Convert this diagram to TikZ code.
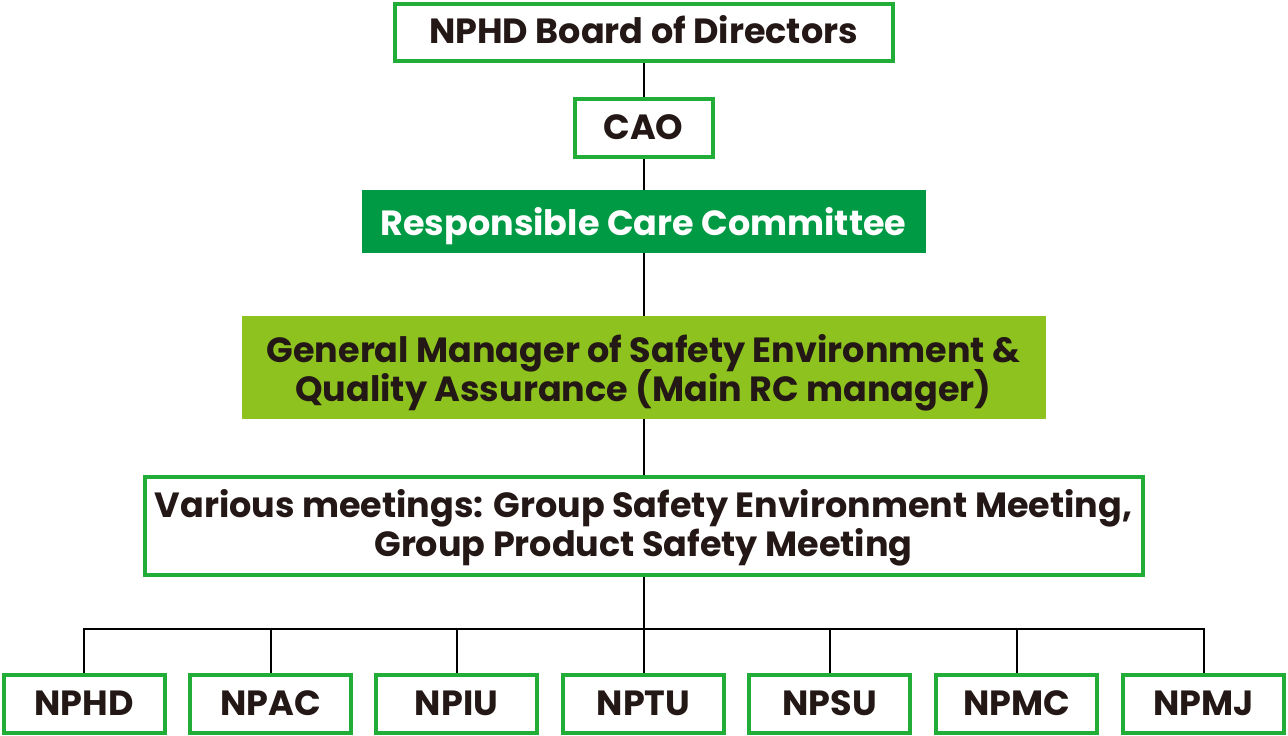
\documentclass[tikz,border=0pt]{standalone}
\usepackage{fontspec}
\setmainfont{Poppins}
\definecolor{bordergreen}{HTML}{22AC38}
\definecolor{darkgreen}{HTML}{009944}
\definecolor{lightgreen}{HTML}{8DC21F}
\definecolor{inkblack}{HTML}{231815}
\newcommand\diagfont{\fontsize{35}{39}\selectfont\bfseries\lineskiplimit=-100pt\relax}
\tikzset{
  every node/.style={font=\diagfont, text=inkblack, inner sep=0pt, align=center},
  oneline/.style={text height=24.5pt, text depth=2pt},
  outlinebox/.style={draw=bordergreen, line width=4pt, fill=white},
  unitbox/.style={outlinebox, oneline, minimum width=161pt, minimum height=58pt},
  conn/.style={draw=black, line width=2pt},
}
\begin{document}
\begin{tikzpicture}[x=1pt,y=-1pt]
\useasboundingbox (0,0) rectangle (1288,736);
\node[outlinebox, oneline, text depth=3.4pt, minimum width=498pt, minimum height=57pt] (board) at (643.5,32.5) {NPHD Board of Directors};
\node[outlinebox, oneline, text depth=1pt, minimum width=138pt, minimum height=58pt] (cao) at (643.5,128) {CAO};
\node[fill=darkgreen, text=white, text height=27.5pt, text depth=0pt, minimum width=564pt, minimum height=63pt] (rcc) at (643.5,221.5) {Responsible Care Committee};
\node[fill=lightgreen, text height=67.5pt, text depth=0pt, minimum width=804pt, minimum height=103pt] (gm) at (643.5,367.5) {General Manager of Safety Environment \&\\Quality Assurance (Main RC manager)};
\node[outlinebox, text height=63.5pt, text depth=3pt, minimum width=998pt, minimum height=98pt] (various) at (643.5,526) {Various meetings: Group Safety Environment Meeting,\\Group Product Safety Meeting};
\node[unitbox] (u1) at (84,704) {NPHD};
\node[unitbox] (u2) at (270.5,704) {NPAC};
\node[unitbox] (u3) at (456.5,704) {NPIU};
\node[unitbox] (u4) at (643.5,704) {NPTU};
\node[unitbox] (u5) at (829.5,704) {NPSU};
\node[unitbox] (u6) at (1016.5,704) {NPMC};
\node[unitbox] (u7) at (1203.5,704) {NPMJ};
\coordinate (bus) at (643.5,629);
\draw[conn] (board.south) -- (cao.north);
\draw[conn] (cao.south) -- (rcc.north);
\draw[conn] (rcc.south) -- (gm.north);
\draw[conn] (gm.south) -- (various.north);
\draw[conn] (various.south) -- (bus);
\draw[conn, line join=miter] (u1.north) -- (u1.north |- bus) -- (u7.north |- bus) -- (u7.north);
\foreach \u in {u2,u3,u4,u5,u6}
  \draw[conn] (\u.north |- bus) -- (\u.north);
\end{tikzpicture}
\end{document}
